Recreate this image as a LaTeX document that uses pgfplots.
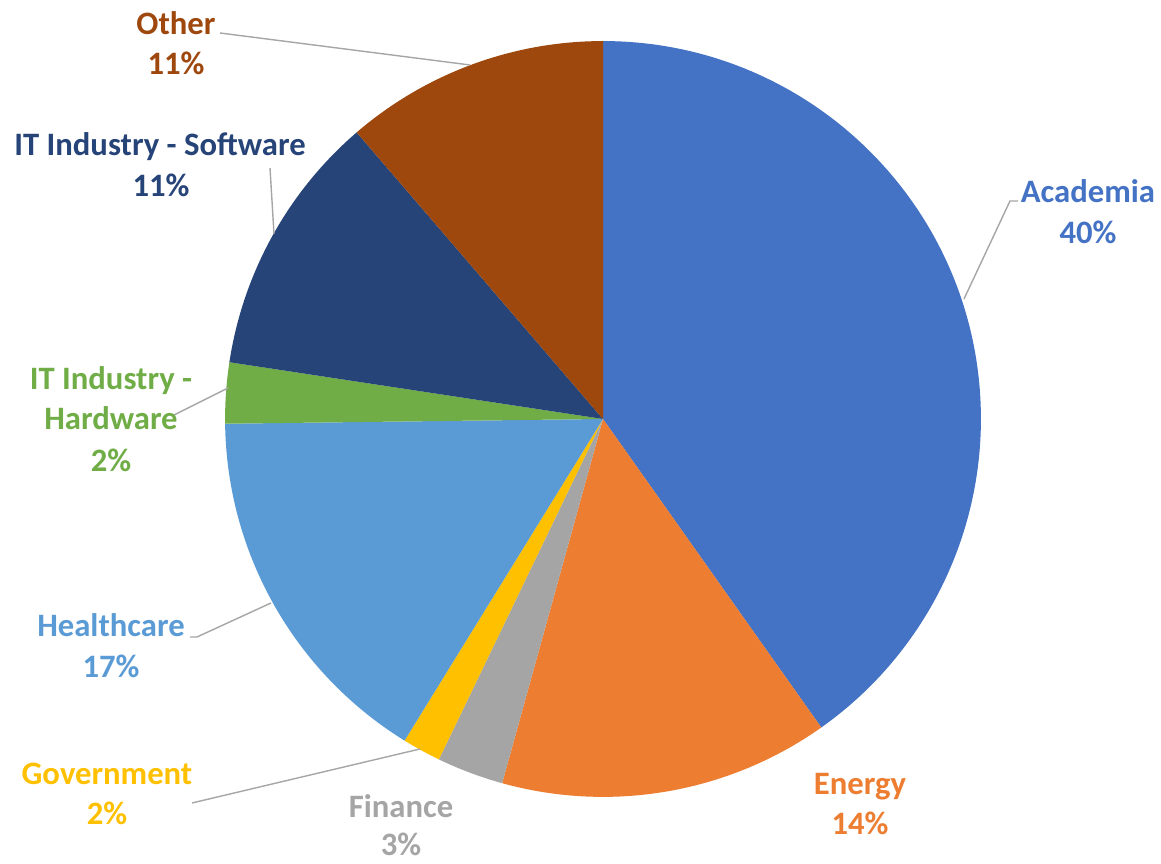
\documentclass[border=0pt]{standalone}
\usepackage{pgfplots}
\usepackage{pgfplotstable}
\pgfplotsset{compat=1.18}
\usepackage{fontspec}
\setmainfont{Carlito}
\definecolor{cAcad}{HTML}{4472C4}
\definecolor{cEner}{HTML}{ED7D31}
\definecolor{cFin}{HTML}{A5A5A5}
\definecolor{cGov}{HTML}{FFC000}
\definecolor{cHealth}{HTML}{5B9BD5}
\definecolor{cITHW}{HTML}{70AD47}
\definecolor{cITSW}{HTML}{264478}
\definecolor{cOther}{HTML}{9E480E}
\definecolor{cLead}{HTML}{A6A6A6}
\tikzset{lbl/.style={anchor=base,inner sep=0pt,font=\fontsize{18.6}{23}\selectfont\bfseries}}

% share of the circle (percent), clockwise from 12 o'clock
\pgfplotstableread{
value color
40.2 cAcad
14.1 cEner
2.85 cFin
1.65 cGov
16.0 cHealth
2.6 cITHW
11.3 cITSW
11.3 cOther
}\piedata

\begin{document}
\begin{tikzpicture}
\begin{axis}[x=0.02cm,y=0.02cm,xmin=0,xmax=1161,ymin=0,ymax=864,
  hide axis,clip=false]
\path (axis cs:0,0) rectangle (axis cs:1161,864);
\xdef\cum{0}
\pgfplotsinvokeforeach{0,...,7}{
  \pgfplotstablegetelem{#1}{value}\of\piedata \let\v=\pgfplotsretval
  \pgfplotstablegetelem{#1}{color}\of\piedata \let\c=\pgfplotsretval
  \pgfmathsetmacro\a{90-3.6*\cum}
  \pgfmathsetmacro\b{90-3.6*(\cum+\v)}
  \pgfmathsetmacro\n{\cum+\v}
  \xdef\cum{\n}
  \edef\temp{\noexpand\fill[\c] (axis cs:603,445) -- ++(\a:7.56cm) arc[start angle=\a, end angle=\b, radius=7.56cm] -- cycle;}
  \temp
}
% leader lines
\draw[cLead,line width=0.8pt] (axis cs:220,831) -- (axis cs:470,799);
\draw[cLead,line width=0.8pt] (axis cs:270,696) -- (axis cs:274,630);
\draw[cLead,line width=0.8pt] (axis cs:174,449) -- (axis cs:228,476);
\draw[cLead,line width=0.8pt] (axis cs:190,227) -- (axis cs:197,227) -- (axis cs:271,261);
\draw[cLead,line width=0.8pt] (axis cs:192,61) -- (axis cs:420,115);
\draw[cLead,line width=0.8pt] (axis cs:1018,663) -- (axis cs:1010,663) -- (axis cs:964,565);
% labels
\node[lbl,text=cAcad] at (axis cs:1088,661) {Academia};
\node[lbl,text=cAcad] at (axis cs:1088,620) {40\%};
\node[lbl,text=cEner] at (axis cs:860,69) {Energy};
\node[lbl,text=cEner] at (axis cs:860,29) {14\%};
\node[lbl,text=cFin] at (axis cs:401,46) {Finance};
\node[lbl,text=cFin] at (axis cs:401,8) {3\%};
\node[lbl,text=cGov] at (axis cs:107,79) {Government};
\node[lbl,text=cGov] at (axis cs:107,39) {2\%};
\node[lbl,text=cHealth] at (axis cs:111,227) {Healthcare};
\node[lbl,text=cHealth] at (axis cs:111,186) {17\%};
\node[lbl,text=cITHW] at (axis cs:111,474) {IT Industry -};
\node[lbl,text=cITHW] at (axis cs:111,434) {Hardware};
\node[lbl,text=cITHW] at (axis cs:111,392) {2\%};
\node[lbl,text=cITSW] at (axis cs:160,708) {IT Industry - Software};
\node[lbl,text=cITSW] at (axis cs:161,667) {11\%};
\node[lbl,text=cOther] at (axis cs:176,829) {Other};
\node[lbl,text=cOther] at (axis cs:176,789) {11\%};
\end{axis}
\end{tikzpicture}
\end{document}
